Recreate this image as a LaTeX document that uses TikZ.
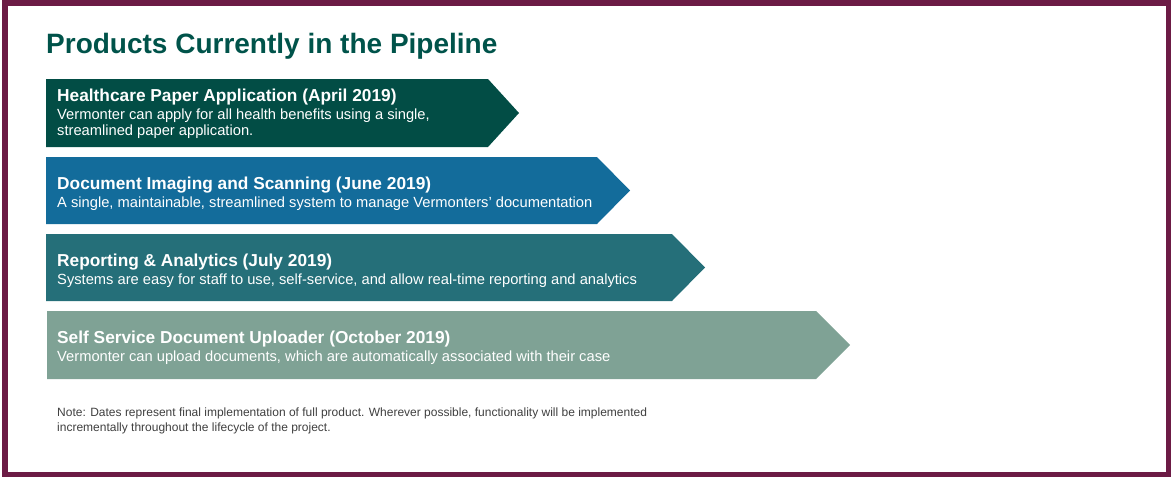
\documentclass[tikz,border=0pt]{standalone}
\usepackage{fontspec}
\setmainfont{Liberation Sans}

\definecolor{framecol}{HTML}{6C1B45}
\definecolor{titlecol}{HTML}{00534A}
\definecolor{stepA}{HTML}{024D45}
\definecolor{stepB}{HTML}{136C9B}
\definecolor{stepC}{HTML}{256F79}
\definecolor{stepD}{HTML}{7FA295}
\definecolor{notecol}{HTML}{3F3F3F}

\tikzset{
    head/.style={anchor=base west, inner sep=0pt, text=white,
        font=\fontsize{17.3}{20}\selectfont\bfseries},
    desc/.style={anchor=base west, inner sep=0pt, text=white, align=left,
        font=\fontsize{14.7}{16.5}\selectfont},
}

\begin{document}
\begin{tikzpicture}[x=1pt,y=-1pt]

    \useasboundingbox (0,0) rectangle (1171,477);

    % this is the frame
    \draw[framecol, line width=5.5pt] (5,3) rectangle (1169,474.5);

    % this is the title
    \node[anchor=base west, inner sep=0pt, text=titlecol,
        font=\fontsize{28}{34}\selectfont\bfseries] (title) at (46,53)
        {Products Currently in the Pipeline};

    % these are the arrows
    \fill[stepA] (46,79) -- (488,79) -- (519,113) -- (488,147) -- (46,147) -- cycle;
    \fill[stepB] (46,157) -- (597,157) -- (630,190.5) -- (597,224) -- (46,224) -- cycle;
    \fill[stepC] (46,234) -- (672,234) -- (705,267.5) -- (672,301) -- (46,301) -- cycle;
    \fill[stepD] (47,311) -- (816,311) -- (850,345) -- (816,379) -- (47,379) -- cycle;

    % these are the texts in the arrows (base = last line)
    \node[head] (headA) at (57,101) {Healthcare Paper Application (April 2019)};
    \node[desc] (descA) at (57,135.5) {Vermonter can apply for all health benefits using a single,\\streamlined paper application.};

    \node[head] (headB) at (57,189) {Document Imaging and Scanning (June 2019)};
    \node[desc] (descB) at (57,207) {A single, maintainable, streamlined system to manage Vermonters’ documentation};

    \node[head] (headC) at (57,266) {Reporting \& Analytics (July 2019)};
    \node[desc] (descC) at (57,284) {Systems are easy for staff to use, self-service, and allow real-time reporting and analytics};

    \node[head] (headD) at (57,343.5) {Self Service Document Uploader (October 2019)};
    \node[desc] (descD) at (57,361.5) {Vermonter can upload documents, which are automatically associated with their case};

    % this is the note
    \node[anchor=base west, inner sep=0pt, text=notecol, align=left,
        font=\fontsize{12}{15}\selectfont] (note) at (57,431)
        {Note: Dates represent final implementation of full product. Wherever possible, functionality will be implemented\\incrementally throughout the lifecycle of the project.};

\end{tikzpicture}
\end{document}
